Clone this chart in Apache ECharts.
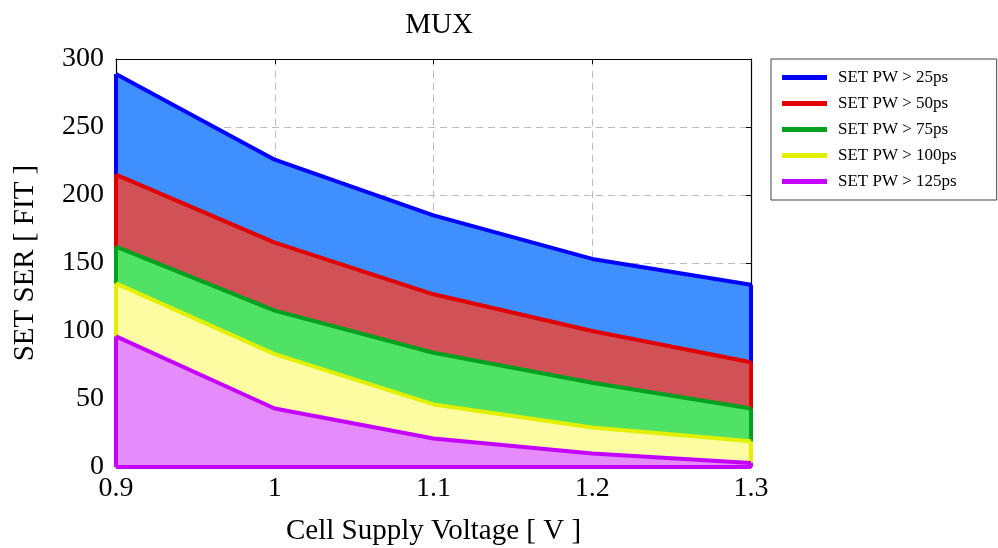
<!DOCTYPE html>
<html>
<head>
<meta charset="utf-8">
<script src="https://cdn.jsdelivr.net/npm/echarts@6/dist/echarts.min.js"></script>
<style>
html,body{margin:0;padding:0;background:#fff;}
#chart{width:998px;height:548px;}
</style>
</head>
<body>
<div id="chart"></div>
<script>
const voltages = ['0.9', '1', '1.1', '1.2', '1.3'];
const pw25 = [289, 226, 185, 153, 134];
const pw50 = [215, 165, 127, 100, 77];
const pw75 = [162, 115, 84, 62, 43];
const pw100 = [135, 83, 46, 29, 19];
const pw125 = [96, 43, 21, 10, 3];
const seriesNames = ['SET PW > 25ps', 'SET PW > 50ps', 'SET PW > 75ps', 'SET PW > 100ps', 'SET PW > 125ps'];
const lineColors = ['#0000ff', '#e00000', '#00a020', '#e2f000', '#c400ff'];
const fillColors = ['#3f8fff', '#d05256', '#50e264', '#fdfca3', '#e68cfa'];
const allData = [pw25, pw50, pw75, pw100, pw125];

const FONT = 'Liberation Serif';
const chart = echarts.init(document.getElementById('chart'));

const series = allData.map((d, i) => {
  const last = d.length - 1;
  const edges = [
    [{coord: [0, d[0]]}, {coord: [0, 0]}],
    [{coord: [last, d[last]]}, {coord: [last, 0]}],
    [{coord: [0, 0]}, {coord: [last, 0]}]
  ];
  return {
    name: seriesNames[i],
    type: 'line',
    data: d,
    z: 10 + i * 2,
    symbol: 'none',
    lineStyle: {color: lineColors[i], width: 4},
    itemStyle: {color: lineColors[i]},
    areaStyle: {color: fillColors[i], opacity: 1},
    animation: false,
    markLine: {
      silent: true,
      symbol: 'none',
      z: 10 + i * 2 + 1,
      label: {show: false},
      lineStyle: {color: lineColors[i], width: 4, type: 'solid'},
      data: edges,
      animation: false
    }
  };
});

const tickStyle = {show: true, inside: true, length: 5, lineStyle: {color: '#000'}};
const dashed = {show: true, showMinLine: false, showMaxLine: false, lineStyle: {color: '#bbb', type: [7, 5], width: 1}};

chart.setOption({
  animation: false,
  title: {
    text: 'MUX',
    left: 434,
    top: 6,
    textAlign: 'center',
    textStyle: {fontFamily: FONT, fontSize: 29, fontWeight: 'normal', color: '#000'}
  },
  legend: {
    orient: 'vertical',
    left: 771,
    top: 59,
    padding: [10, 40, 10, 11],
    itemWidth: 45,
    itemHeight: 5,
    itemGap: 9,
    icon: 'rect',
    borderColor: '#444',
    borderWidth: 1,
    textStyle: {fontFamily: FONT, fontSize: 17, color: '#000', padding: [0, 0, 0, 6]},
    data: seriesNames
  },
  grid: {
    left: 116, right: 247, top: 59, bottom: 81,
    outerBoundsMode: 'none',
    containLabel: false,
    show: false
  },
  xAxis: [{
    type: 'category',
    data: voltages,
    boundaryGap: false,
    name: 'Cell Supply Voltage [ V ]',
    nameLocation: 'middle',
    nameGap: 50,
    nameTextStyle: {fontFamily: FONT, fontSize: 29, color: '#000'},
    axisLine: {show: true, onZero: false, lineStyle: {color: '#000', width: 1.2}},
    axisTick: tickStyle,
    axisLabel: {fontFamily: FONT, fontSize: 28, color: '#000', margin: 8},
    splitLine: dashed
  }, {
    type: 'category',
    data: voltages,
    position: 'top',
    boundaryGap: false,
    z: 2,
    axisLine: {show: true, onZero: false, lineStyle: {color: '#000', width: 1.2}},
    axisTick: tickStyle,
    axisLabel: {show: false},
    splitLine: {show: false}
  }],
  yAxis: [{
    type: 'value',
    min: 0, max: 300, interval: 50,
    name: 'SET SER [ FIT ]',
    nameLocation: 'middle',
    nameGap: 76,
    nameTextStyle: {fontFamily: FONT, fontSize: 29, color: '#000'},
    axisLine: {show: true, onZero: false, lineStyle: {color: '#000', width: 1.2}},
    axisTick: tickStyle,
    axisLabel: {fontFamily: FONT, fontSize: 28, color: '#000', margin: 12},
    splitLine: dashed
  }, {
    type: 'value',
    position: 'right',
    min: 0, max: 300, interval: 50,
    z: 2,
    axisLine: {show: true, onZero: false, lineStyle: {color: '#000', width: 1.2}},
    axisTick: tickStyle,
    axisLabel: {show: false},
    splitLine: {show: false}
  }],
  series: series
});
</script>
</body>
</html>
